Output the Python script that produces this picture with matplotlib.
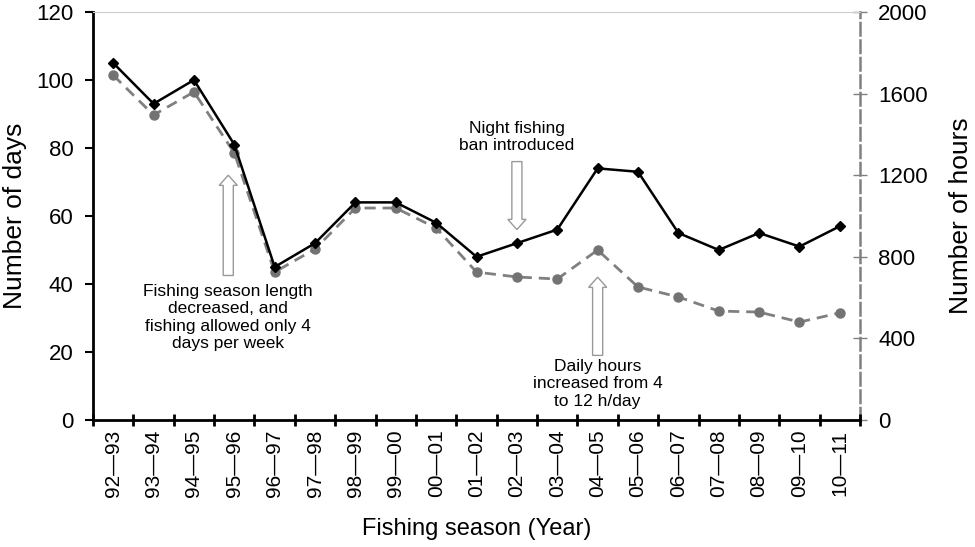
import numpy as np
import matplotlib.pyplot as plt
from matplotlib.patches import FancyArrow

plt.rcParams['font.family'] = ['Liberation Sans', 'DejaVu Sans']

seasons = ['92\u201493', '93\u201494', '94\u201495', '95\u201496', '96\u201497', '97\u201498',
           '98\u201499', '99\u201400', '00\u201401', '01\u201402', '02\u201403', '03\u201404',
           '04\u201405', '05\u201406', '06\u201407', '07\u201408', '08\u201409', '09\u201410',
           '10\u201411']
days = [105, 93, 100, 81, 45, 52, 64, 64, 58, 48, 52, 56, 74, 73, 55, 50, 55, 51, 57]
hours = [1690, 1495, 1608, 1309, 725, 838, 1039, 1039, 941, 725, 701, 691, 833,
         652, 603, 534, 529, 480, 525]

x = np.arange(len(seasons))

fig = plt.figure(figsize=(9.75, 5.47), dpi=100)
ax = fig.add_axes([0.0954, 0.2322, 0.7867, 0.7459])
ax2 = ax.twinx()

ax2.plot(x, hours, color='#808080', ls=(0, (4, 2.5)), lw=2, marker='o', ms=6.5,
         mfc='#737373', mec='#737373', zorder=2)
ax.plot(x, days, color='black', lw=1.8, marker='D', ms=5, zorder=3)
ax.set_zorder(ax2.get_zorder() + 1)
ax.patch.set_visible(False)

ax.set_xlim(-0.5, len(seasons) - 0.5)
ax.set_ylim(0, 120)
ax.set_yticks(range(0, 121, 20))
ax2.set_ylim(0, 2000)
ax2.set_yticks(range(0, 2001, 400))

# boundary ticks, labels at the centres
ax.set_xticks(np.arange(-0.5, len(seasons), 1))
ax.set_xticklabels([])
ax.set_xticks(x, minor=True)
ax.set_xticklabels(seasons, minor=True, rotation=90, fontsize=15)
ax.tick_params(axis='x', which='minor', length=0, pad=7)
ax.tick_params(axis='x', which='major', direction='inout', length=8, width=2)
ax.tick_params(axis='y', labelsize=16, direction='out', length=6, width=1.5, pad=8)
ax2.tick_params(axis='y', labelsize=16, direction='inout', length=10, width=1, colors='#808080',
                labelcolor='black', pad=8)

for s in ['left', 'bottom']:
    ax.spines[s].set_linewidth(2)
ax.spines['right'].set_visible(False)
ax.spines['top'].set_color('#cccccc')
ax2.spines['left'].set_visible(False)
ax2.spines['bottom'].set_visible(False)
ax2.spines['top'].set_visible(False)
ax2.spines['right'].set_color('#808080')
ax2.spines['right'].set_linestyle((0, (5, 2)))
ax2.spines['right'].set_linewidth(1.8)

ax.set_ylabel('Number of days', fontsize=19)
ax.yaxis.set_label_coords(-0.086, 0.5)
ax2.set_ylabel('Number of hours', fontsize=19)
ax2.yaxis.set_label_coords(1.116, 0.5)
ax.set_xlabel('Fishing season (Year)', fontsize=17)
ax.xaxis.set_label_coords(0.5, -0.24)

def block_arrow(xa, y0, y1):
    ax.add_patch(FancyArrow(xa, y0, 0, y1 - y0, width=0.25, head_width=0.45,
                            head_length=3, length_includes_head=True,
                            facecolor='white', edgecolor='#999999', lw=1, zorder=4))

block_arrow(2.85, 42.5, 72)
block_arrow(10.0, 76, 56)
block_arrow(12.0, 19, 42)

ax.text(2.85, 40, 'Fishing season length\ndecreased, and\nfishing allowed only 4\ndays per week',
        ha='center', va='top', fontsize=12.5, linespacing=1.2)
ax.text(10.0, 78.5, 'Night fishing\nban introduced', ha='center', va='bottom', fontsize=12.5,
        linespacing=1.2)
ax.text(12.0, 18, 'Daily hours\nincreased from 4\nto 12 h/day', ha='center', va='top',
        fontsize=12.5, linespacing=1.2)

fig.savefig('out.png', dpi=100)
